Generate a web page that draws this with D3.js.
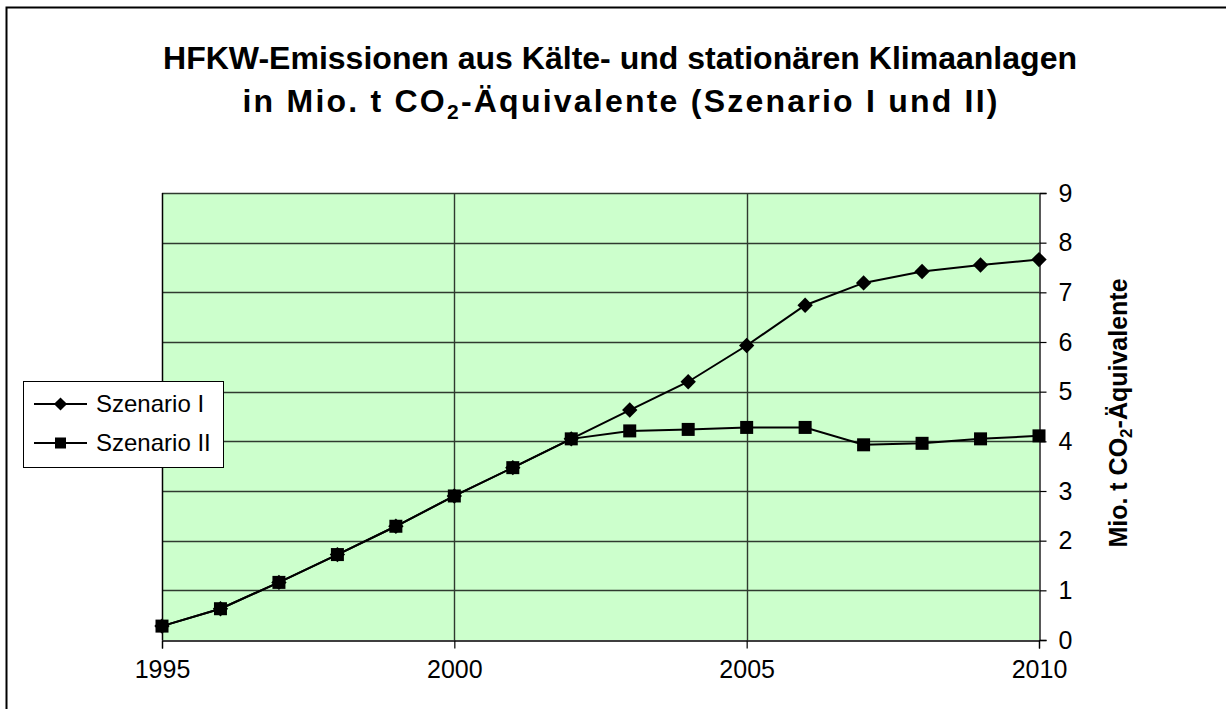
<!DOCTYPE html>
<html>
<head>
<meta charset="utf-8">
<script src="https://cdn.jsdelivr.net/npm/d3@7"></script>
<style>
  body { margin: 0; background: #fff; }
  svg { display: block; font-family: Arial, "Liberation Sans", sans-serif; }
</style>
</head>
<body>
<svg id="chart" width="1226" height="709"></svg>
<script>
// data
var YEARS = [1995, 1996, 1997, 1998, 1999, 2000, 2001, 2002, 2003, 2004, 2005, 2006, 2007, 2008, 2009, 2010];
var SZENARIO_1 = [0.28, 0.63, 1.16, 1.72, 2.29, 2.9, 3.47, 4.05, 4.63, 5.2, 5.93, 6.74, 7.19, 7.42, 7.55, 7.66];
var SZENARIO_2 = [0.28, 0.63, 1.16, 1.72, 2.29, 2.9, 3.47, 4.05, 4.21, 4.24, 4.28, 4.28, 3.93, 3.96, 4.05, 4.11];
var X_TICKS = [1995, 2000, 2005, 2010];
var Y_TICKS = [0, 1, 2, 3, 4, 5, 6, 7, 8, 9];
var SERIES_NAMES = ["Szenario I", "Szenario II"];

var PLOT = { left: 162, top: 193, right: 1039, bottom: 640 };
var FONT = "Arial, 'Liberation Sans', sans-serif";

var svg = d3.select("#chart");

// outer frame (only left + top visible in the crop)
svg.append("rect")
    .attr("x", 6.5).attr("y", 7.5)
    .attr("width", 1400).attr("height", 900)
    .attr("fill", "none")
    .attr("stroke", "black")
    .attr("stroke-width", 2);

var xScale = d3.scaleLinear()
    .domain([1995, 2010])
    .range([PLOT.left, PLOT.right]);
var yScale = d3.scaleLinear()
    .domain([0, 9])
    .range([PLOT.bottom, PLOT.top]);

// plot background
svg.append("rect")
    .attr("x", PLOT.left).attr("y", PLOT.top)
    .attr("width", PLOT.right - PLOT.left)
    .attr("height", PLOT.bottom - PLOT.top)
    .attr("fill", "#ccffcc");

// grid lines
svg.append("g").selectAll("line")
    .data(Y_TICKS.slice(1))
    .join("line")
    .attr("x1", PLOT.left).attr("x2", PLOT.right)
    .attr("y1", d => Math.round(yScale(d)) + 0.5)
    .attr("y2", d => Math.round(yScale(d)) + 0.5)
    .attr("stroke", "#2f3a2f")
    .attr("stroke-width", 1.4);

svg.append("g").selectAll("line")
    .data([2000, 2005])
    .join("line")
    .attr("x1", d => Math.round(xScale(d)) + 0.5)
    .attr("x2", d => Math.round(xScale(d)) + 0.5)
    .attr("y1", PLOT.top).attr("y2", PLOT.bottom)
    .attr("stroke", "#2f3a2f")
    .attr("stroke-width", 1.4);

// plot border left
svg.append("line")
    .attr("x1", PLOT.left + 0.5).attr("x2", PLOT.left + 0.5)
    .attr("y1", PLOT.top).attr("y2", PLOT.bottom)
    .attr("stroke", "black").attr("stroke-width", 1.5);

// axes
var xAxis = d3.axisBottom(xScale)
    .tickValues(X_TICKS)
    .tickFormat(d => "" + d)
    .tickSize(8)
    .tickPadding(12);
var yAxis = d3.axisRight(yScale)
    .tickValues(Y_TICKS)
    .tickSize(7)
    .tickPadding(12);

var gx = svg.append("g")
    .attr("transform", `translate(0, ${PLOT.bottom + 0.5})`)
    .call(xAxis);
var gy = svg.append("g")
    .attr("transform", `translate(${PLOT.right + 0.5}, 0)`)
    .call(yAxis);

[gx, gy].forEach(g => {
    g.attr("font-size", null).attr("font-family", null);
    g.select(".domain").attr("stroke", "black").attr("stroke-width", 1.3);
    g.selectAll(".tick line").attr("stroke", "black").attr("stroke-width", 1.2);
    g.selectAll(".tick text")
        .attr("fill", "black")
        .style("font-size", "25px")
        .style("font-family", FONT);
});

// lines
var line = d3.line()
    .x((d, i) => xScale(YEARS[i]))
    .y(d => yScale(d));

var diamond = d3.symbol().type(d3.symbolDiamond2).size(150);

svg.append("path")
    .datum(SZENARIO_1)
    .attr("fill", "none").attr("stroke", "black").attr("stroke-width", 2)
    .attr("d", line);
svg.append("path")
    .datum(SZENARIO_2)
    .attr("fill", "none").attr("stroke", "black").attr("stroke-width", 2)
    .attr("d", line);

svg.append("g").selectAll("path")
    .data(SZENARIO_1)
    .join("path")
    .attr("transform", (d, i) => `translate(${xScale(YEARS[i])}, ${yScale(d)})`)
    .attr("d", diamond)
    .attr("fill", "black");

svg.append("g").selectAll("rect")
    .data(SZENARIO_2)
    .join("rect")
    .attr("x", (d, i) => xScale(YEARS[i]) - 6.5)
    .attr("y", d => yScale(d) - 6.5)
    .attr("width", 13).attr("height", 13)
    .attr("fill", "black");

// title
svg.append("text")
    .attr("x", 620).attr("y", 69)
    .attr("text-anchor", "middle")
    .attr("font-weight", "bold")
    .style("font-size", "32px")
    .attr("textLength", 914)
    .attr("lengthAdjust", "spacingAndGlyphs")
    .text("HFKW-Emissionen aus Kälte- und stationären Klimaanlagen");

var t2 = svg.append("text")
    .attr("x", 620).attr("y", 112)
    .attr("text-anchor", "middle")
    .attr("font-weight", "bold")
    .style("font-size", "32px");
t2.append("tspan").text("in Mio. t CO");
t2.append("tspan").attr("dy", 7).style("font-size", "21px").text("2");
t2.append("tspan").attr("dy", -7).text("-Äquivalente (Szenario I und II)");
// stretch line 2 to the reference width
var w2 = t2.node().getComputedTextLength();
t2.attr("textLength", 755).attr("lengthAdjust", "spacing");

// y axis title
var yt = svg.append("text")
    .attr("transform", "translate(1127, 413) rotate(-90)")
    .attr("text-anchor", "middle")
    .attr("font-weight", "bold")
    .style("font-size", "25px");
yt.append("tspan").text("Mio. t CO");
yt.append("tspan").attr("dy", 5).style("font-size", "17px").text("2");
yt.append("tspan").attr("dy", -5).text("-Äquivalente");

// legend
var legend = svg.append("g");
legend.append("rect")
    .attr("x", 23.5).attr("y", 381.5)
    .attr("width", 200).attr("height", 86)
    .attr("fill", "white")
    .attr("stroke", "black").attr("stroke-width", 1);

SERIES_NAMES.forEach((name, i) => {
    var cy = 404 + i * 39;
    legend.append("line")
        .attr("x1", 34).attr("x2", 87)
        .attr("y1", cy).attr("y2", cy)
        .attr("stroke", "black").attr("stroke-width", 2);
    if (i === 0) {
        legend.append("path")
            .attr("transform", `translate(60.5, ${cy})`)
            .attr("d", d3.symbol().type(d3.symbolDiamond2).size(110))
            .attr("fill", "black");
    } else {
        legend.append("rect")
            .attr("x", 55).attr("y", cy - 5.5)
            .attr("width", 11).attr("height", 11)
            .attr("fill", "black");
    }
    legend.append("text")
        .attr("x", 96).attr("y", cy + 8)
        .style("font-size", "24px")
        .text(name);
});
</script>
</body>
</html>
